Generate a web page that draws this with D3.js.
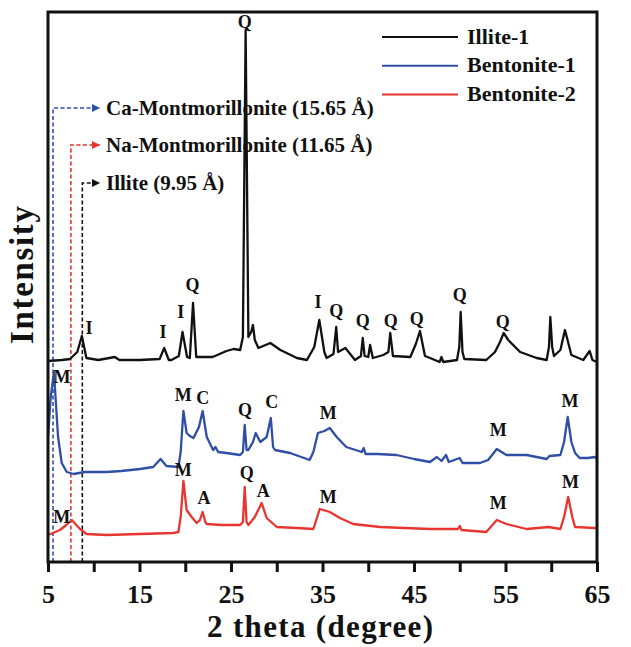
<!DOCTYPE html>
<html lang="en">
<head>
<meta charset="utf-8">
<title>XRD patterns</title>
<script src="https://cdn.jsdelivr.net/npm/d3@7"></script>
<style>
body { margin: 0; background: #fff; }
text { font-family: "Liberation Serif", "Times New Roman", serif; font-weight: bold; fill: #111; }
</style>
</head>
<body>
<script>
// 2 theta (degree), intensity (a.u.)
var illite1 = [
	[5.0, 201], [6.5, 202], [7.4, 203], [8.2, 210], [8.7, 226], [9.2, 204], [10.5, 202], [12.3, 205],
	[12.8, 202], [15, 202], [17.2, 203], [17.7, 214], [18.2, 202], [18.5, 202], [19.3, 206], [19.7, 230],
	[20.2, 205], [20.5, 204], [20.85, 259], [21.2, 205], [23.0, 205], [24.5, 211], [25.3, 213], [26.0, 212],
	[26.3, 225], [26.6, 532], [26.9, 225], [27.2, 230], [27.4, 237], [27.6, 222], [28.0, 214], [29.3, 219],
	[30.4, 212], [32.2, 204], [33.3, 202], [34.1, 215], [34.65, 242], [35.2, 210], [35.45, 204], [36.2, 208],
	[36.5, 235], [36.7, 210], [37.5, 214], [38.55, 202], [39.2, 206], [39.4, 224], [39.6, 206], [40.0, 205],
	[40.2, 217], [40.5, 204], [41.65, 207], [42.2, 210], [42.4, 229], [42.7, 206], [44.6, 205], [45.2, 218],
	[45.65, 231], [46.2, 206], [46.75, 204], [47.8, 200], [48.0, 205], [48.2, 200], [49.7, 202], [49.95, 215],
	[50.1, 250], [50.3, 210], [50.5, 203], [52.9, 202], [53.85, 210], [54.4, 220], [54.8, 229], [55.3, 222],
	[56.6, 210], [58.4, 204], [59.5, 202], [59.75, 215], [59.9, 245], [60.1, 215], [60.3, 206], [61.0, 212],
	[61.5, 232], [62.2, 207], [63.5, 202], [64.2, 211], [64.5, 202], [65, 200]
];

var bentonite1 = [
	[5.0, 125], [5.3, 165], [5.65, 190], [6.1, 125], [6.5, 99], [7.05, 90], [7.8, 88], [9, 90], [11.4, 90],
	[13, 91], [15.05, 93], [16.5, 95], [17.3, 103], [17.95, 96], [19.25, 95], [19.5, 110], [19.8, 151],
	[20.15, 129], [20.5, 126], [20.9, 124], [21.5, 135], [21.9, 151], [22.35, 125], [23.05, 112], [23.3, 115],
	[23.6, 110], [24.5, 109], [26.0, 107], [26.3, 110], [26.5, 137], [26.7, 112], [26.9, 112], [27.4, 120],
	[27.7, 129], [28.2, 120], [28.9, 125], [29.35, 144], [29.6, 115], [29.8, 112], [31.45, 109], [33.6, 102],
	[34.0, 110], [34.5, 129], [35.2, 131], [35.8, 134], [36.55, 125], [37.6, 115], [39.3, 110], [39.5, 114],
	[39.7, 108], [41, 108], [43.1, 107], [45, 103], [46.75, 100], [47.5, 105], [48.0, 101], [48.5, 107],
	[48.8, 100], [50, 104], [50.3, 99], [52.2, 99], [53.1, 102], [54.05, 113], [55.1, 107], [57.3, 107],
	[59.5, 103], [59.8, 106], [61.0, 107], [61.4, 120], [61.8, 145], [62.2, 120], [62.6, 109], [63.1, 104],
	[64, 104], [64.8, 105], [65, 103]
];

var bentonite2 = [
	[5.0, 27], [6.3, 32], [7.0, 37], [7.6, 42], [8.5, 33], [9.2, 28], [11.4, 27], [15, 28], [18.7, 29],
	[19.25, 30], [19.5, 45], [19.8, 81], [20.15, 52], [20.7, 45], [21.25, 39], [21.6, 42], [21.9, 50],
	[22.2, 40], [22.35, 38], [24, 37], [26.0, 37], [26.3, 40], [26.5, 75], [26.7, 40], [26.9, 37], [27.6, 45],
	[28.35, 59], [28.9, 44], [30.0, 35], [32.2, 34], [34.0, 33], [34.7, 53], [35.8, 50], [36.9, 44],
	[38.35, 38], [41.3, 35], [44, 34], [46.75, 33], [49.8, 33], [50.0, 36], [50.2, 32], [52.9, 30],
	[54.05, 42], [55.1, 38], [57.3, 33], [59.7, 35], [61.0, 33], [61.4, 45], [61.85, 65], [62.3, 45],
	[62.6, 35], [64.8, 34], [65, 34]
];

var seriesNames = ["Illite-1", "Bentonite-1", "Bentonite-2"];

// phase letters: 2 theta, intensity, letter
var illite1Peaks = [
	[26.5, 540, "Q"], [9.48, 234, "I"], [17.57, 230, "I"], [19.5, 250, "I"], [20.8, 277, "Q"],
	[34.5, 260, "I"], [36.5, 251, "Q"], [39.4, 241, "Q"], [42.45, 241, "Q"], [45.3, 243, "Q"],
	[50.0, 267, "Q"], [54.7, 240, "Q"]
];
var bentonite1Peaks = [
	[6.53, 185, "M"], [19.79, 167, "M"], [21.9, 164, "C"], [26.53, 152, "Q"], [29.45, 160, "C"],
	[35.63, 149, "M"], [54.2, 132, "M"], [62.05, 161, "M"]
];
var bentonite2Peaks = [
	[6.5, 45, "M"], [19.79, 92, "M"], [22.05, 64, "A"], [26.72, 89, "Q"], [28.53, 71, "A"],
	[35.63, 65, "M"], [54.2, 59, "M"], [62.1, 80, "M"]
];

// basal reflections: 2 theta, top of marker line (intensity), label
var basalTheta = [5.55, 7.5, 8.75];
var basalTop = [454, 417, 379];
var basalLabels = ["Ca-Montmorillonite (15.65 Å)", "Na-Montmorillonite (11.65 Å)", "Illite (9.95 Å)"];
var arrowTipTheta = 10.68;

var xTicks = [5, 10, 15, 20, 25, 30, 35, 40, 45, 50, 55, 60, 65];
var xTickLabels = [5, 15, 25, 35, 45, 55, 65];

var colors = ["#111111", "#2f4ea6", "#e8352f"];
var basalColors = ["#2f4ea6", "#e8352f", "#111111"];

var w = 631, h = 647;
var padLeft = 48, padRight = 597, padTop = 12, padBottom = 562;

var xScale = d3.scaleLinear().domain([5, 65]).range([padLeft, padRight]);
var yScale = d3.scaleLinear().domain([0, 550]).range([padBottom, padTop]);

var svg = d3.select("body").append("svg")
	.attr("width", w)
	.attr("height", h);

// arrow heads
var defs = svg.append("defs");
basalColors.forEach(function(c, i) {
	defs.append("marker")
		.attr("id", "arrow" + i)
		.attr("viewBox", "0 0 10 10")
		.attr("refX", 10)
		.attr("refY", 5)
		.attr("markerWidth", 8)
		.attr("markerHeight", 8)
		.attr("markerUnits", "userSpaceOnUse")
		.attr("orient", "auto")
		.append("path")
		.attr("d", "M0,0 L10,5 L0,10 Z")
		.attr("fill", c);
});

// dashed marker lines
basalTheta.forEach(function(t, i) {
	var x0 = xScale(t), y0 = yScale(basalTop[i]), x1 = xScale(arrowTipTheta);
	svg.append("path")
		.attr("d", "M" + x0 + "," + padBottom + " L" + x0 + "," + y0 + " L" + x1 + "," + y0)
		.attr("fill", "none")
		.attr("stroke", basalColors[i])
		.attr("stroke-width", 1.6)
		.attr("stroke-dasharray", "4,2.5")
		.attr("marker-end", "url(#arrow" + i + ")");
	svg.append("text")
		.attr("x", x1 + 6)
		.attr("y", y0)
		.attr("dy", "0.35em")
		.attr("font-size", "21px")
		.text(basalLabels[i]);
});

// curves
var line = d3.line()
	.x(function(d) { return xScale(d[0]); })
	.y(function(d) { return yScale(d[1]); });

[illite1, bentonite1, bentonite2].forEach(function(s, i) {
	svg.append("path")
		.datum(s)
		.attr("d", line)
		.attr("fill", "none")
		.attr("stroke", colors[i])
		.attr("stroke-width", 2.3)
		.attr("stroke-linejoin", "round");
});

// peak letters
[illite1Peaks, bentonite1Peaks, bentonite2Peaks].forEach(function(p) {
	svg.selectAll(null)
		.data(p)
		.enter()
		.append("text")
		.attr("x", function(d) { return xScale(d[0]); })
		.attr("y", function(d) { return yScale(d[1]); })
		.attr("dy", "0.35em")
		.attr("text-anchor", "middle")
		.attr("font-size", "18px")
		.text(function(d) { return d[2]; });
});

// legend
var legend = svg.append("g").attr("transform", "translate(382,37)");
seriesNames.forEach(function(n, i) {
	legend.append("line")
		.attr("x1", 0).attr("x2", 76)
		.attr("y1", i * 28.7).attr("y2", i * 28.7)
		.attr("stroke", colors[i])
		.attr("stroke-width", 2);
	legend.append("text")
		.attr("x", 85)
		.attr("y", i * 28.7)
		.attr("dy", "0.3em")
		.attr("font-size", "22px")
		.text(n);
});

// frame
svg.append("rect")
	.attr("x", padLeft)
	.attr("y", padTop)
	.attr("width", padRight - padLeft)
	.attr("height", padBottom - padTop)
	.attr("fill", "none")
	.attr("stroke", "#111")
	.attr("stroke-width", 3);

// x axis
var xAxis = d3.axisBottom(xScale)
	.tickValues(xTicks)
	.tickSize(10)
	.tickFormat(function(d) { return xTickLabels.indexOf(d) >= 0 ? d : ""; });

var gx = svg.append("g")
	.attr("transform", "translate(0," + padBottom + ")")
	.call(xAxis);
gx.select(".domain").remove();
gx.selectAll(".tick line").attr("stroke", "#111").attr("stroke-width", 3);
gx.selectAll(".tick text")
	.attr("y", 0)
	.attr("dy", 0)
	.attr("transform", "translate(0,41)")
	.attr("font-family", null)
	.attr("font-size", "26px")
	.attr("fill", "#111");

svg.append("text")
	.attr("x", 320)
	.attr("y", 637)
	.attr("text-anchor", "middle")
	.attr("font-size", "31px")
	.attr("textLength", 226)
	.attr("lengthAdjust", "spacing")
	.text("2 theta (degree)");

svg.append("text")
	.attr("transform", "translate(33,275) rotate(-90)")
	.attr("text-anchor", "middle")
	.attr("font-size", "33px")
	.attr("textLength", 138)
	.attr("lengthAdjust", "spacing")
	.text("Intensity");
</script>
</body>
</html>
